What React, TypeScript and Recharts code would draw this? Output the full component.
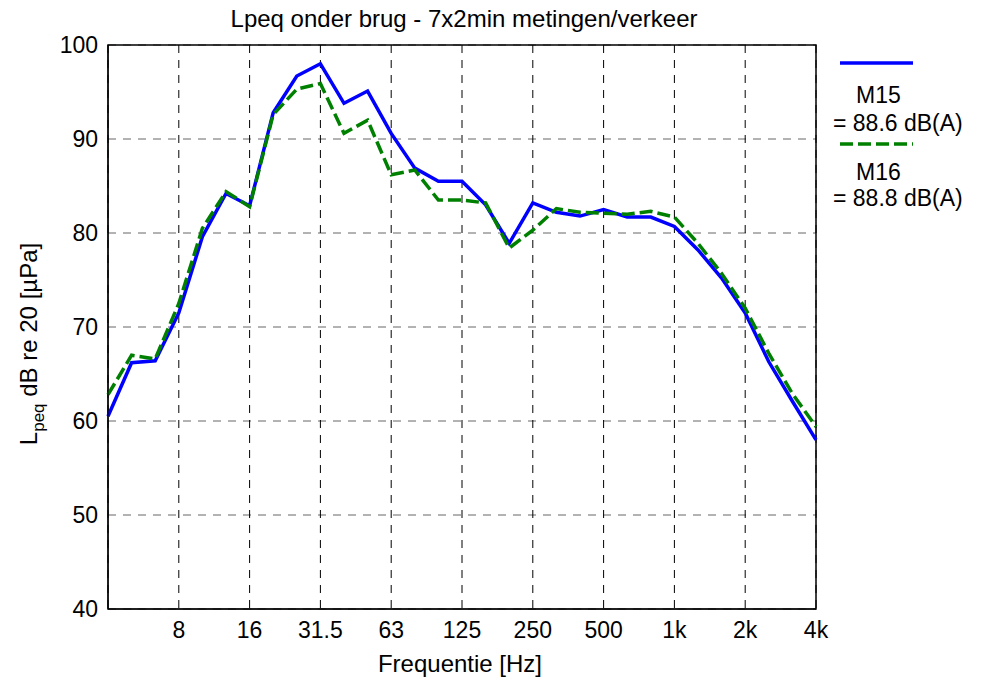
import React from "react"
import { LineChart, Line, XAxis, YAxis, CartesianGrid, ReferenceArea, Customized } from "recharts"

// third-octave band centres, 4 Hz .. 4 kHz
const bands = [
  "4", "5", "6.3", "8", "10", "12.5", "16", "20", "25", "31.5", "40", "50", "63", "80", "100",
  "125", "160", "200", "250", "315", "400", "500", "630", "800", "1k", "1.25k", "1.6k", "2k",
  "2.5k", "3.15k", "4k",
]

const m15 = [
  60.5, 66.2, 66.4, 71.5, 79.6, 84.2, 82.9, 92.8, 96.7, 98.0, 93.8, 95.1, 90.6, 86.9, 85.5,
  85.5, 83.0, 78.9, 83.2, 82.2, 81.8, 82.5, 81.7, 81.7, 80.7, 78.2, 75.2, 71.5, 66.3, 62.1, 58.0,
]

const m16 = [
  62.8, 67.0, 66.6, 72.5, 80.5, 84.4, 82.8, 92.6, 95.3, 95.9, 90.6, 92.0, 86.2, 86.7, 83.5,
  83.5, 83.2, 78.4, 80.3, 82.6, 82.2, 82.1, 82.0, 82.3, 81.7, 78.9, 75.7, 72.0, 67.2, 62.9, 59.4,
]

const tickBands = ["8", "16", "31.5", "63", "125", "250", "500", "1k", "2k", "4k"]
const yTicks = [40, 50, 60, 70, 80, 90, 100]

const seriesNames = ["M15", "M16"]
const seriesLevels = ["= 88.6 dB(A)", "= 88.8 dB(A)"]

const font = "'Liberation Sans', Arial, sans-serif"
const dash = "13 5"
const gridDash = "8 7"

const data = bands.map((b, i) => ({ i, band: b, m15: m15[i], m16: m16[i] }))
const xTicks = tickBands.map((t) => bands.indexOf(t))

function Overlay() {
  return (
    <g fontFamily={font} fontSize={24} fill="#000">
      <text x={464} y={27} textAnchor="middle">
        Lpeq onder brug - 7x2min metingen/verkeer
      </text>
      <text x={460} y={672} textAnchor="middle">
        Frequentie [Hz]
      </text>
      <text transform="translate(37,344) rotate(-90)" textAnchor="middle">
        L
        <tspan fontSize={17} dy={7}>peq</tspan>
        <tspan dy={-7}> dB re 20 [µPa]</tspan>
      </text>

      {/* legend */}
      <g fontSize={23}>
        <line x1={840} x2={913} y1={63} y2={63} stroke="#0000ff" strokeWidth={3.5} />
        <text x={856} y={103}>{seriesNames[0]}</text>
        <text x={833} y={131}>{seriesLevels[0]}</text>
        <line x1={840} x2={913} y1={144} y2={144} stroke="#008000" strokeWidth={3.5} strokeDasharray={dash} />
        <text x={856} y={180}>{seriesNames[1]}</text>
        <text x={833} y={206}>{seriesLevels[1]}</text>
      </g>
    </g>
  )
}

export default function App() {
  return (
    <div style={{ position: "absolute", left: 0, top: 0, width: 986, height: 679, background: "#fff" }}>
      <LineChart width={986} height={679} data={data} margin={{ top: 45, right: 170, bottom: 40, left: 48 }}>
        <CartesianGrid vertical={false} stroke="#666" strokeDasharray={gridDash} />
        <CartesianGrid horizontal={false} stroke="#000" strokeDasharray={gridDash} />
        <XAxis
          type="number"
          dataKey="i"
          domain={[0, 30]}
          ticks={xTicks}
          tickFormatter={(v: number) => bands[v]}
          height={30}
          tickLine={false}
          tickSize={0}
          tickMargin={13}
          axisLine={{ stroke: "#000" }}
          tick={{ fill: "#000", fontSize: 23, fontFamily: font }}
          interval={0}
        />
        <YAxis
          domain={[40, 100]}
          ticks={yTicks}
          width={60}
          tickLine={false}
          tickSize={0}
          tickMargin={10}
          axisLine={{ stroke: "#000" }}
          tick={{ fill: "#000", fontSize: 23, fontFamily: font }}
          interval={0}
        />
        <ReferenceArea x1={0} x2={30} y1={40} y2={100} fill="none" stroke="#000" strokeWidth={1.5} />
        <Line
          type="linear"
          dataKey="m15"
          stroke="#0000ff"
          strokeWidth={3.5}
          dot={false}
          isAnimationActive={false}
        />
        <Line
          type="linear"
          dataKey="m16"
          stroke="#008000"
          strokeWidth={3.5}
          strokeDasharray={dash}
          dot={false}
          isAnimationActive={false}
        />
        <Customized component={Overlay} />
      </LineChart>
    </div>
  )
}
